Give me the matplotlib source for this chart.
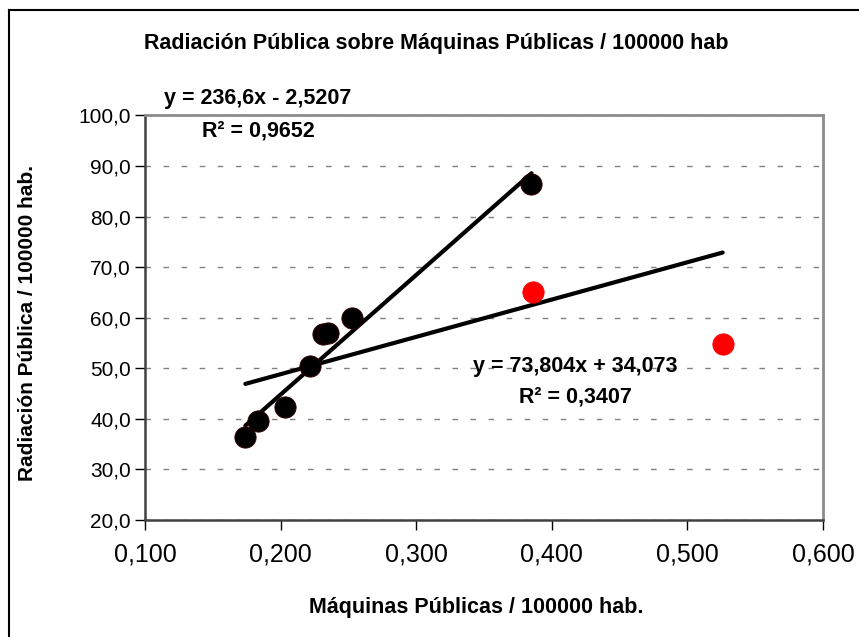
import matplotlib
matplotlib.use('Agg')
import matplotlib.pyplot as plt
from matplotlib.ticker import FuncFormatter, MultipleLocator
from matplotlib.lines import Line2D

# Data
X_BLACK = [0.174, 0.183, 0.203, 0.222, 0.231, 0.235, 0.253, 0.385]
Y_BLACK = [36.5, 39.5, 42.4, 50.4, 56.7, 56.9, 60.0, 86.4]
X_RED = [0.386, 0.526]
Y_RED = [65.1, 54.8]

# Trend lines: (slope, intercept) as printed on the chart
FIT_BLACK = (236.6, -2.5207)
FIT_ALL = (73.804, 34.073)
EQ_BLACK = ['y = 236,6x - 2,5207', 'R² = 0,9652']
EQ_ALL = ['y = 73,804x + 34,073', 'R² = 0,3407']

TITLE = 'Radiación Pública sobre Máquinas Públicas / 100000 hab'
XLABEL = 'Máquinas Públicas / 100000 hab.'
YLABEL = 'Radiación Pública / 100000 hab.'

BOLD_SIZE = 15.5

plt.rcParams['font.family'] = ['Liberation Sans', 'DejaVu Sans']

fig = plt.figure(figsize=(8.59, 6.37), dpi=100)
ax = fig.add_axes([0.1688, 0.1837, 0.7893, 0.6350])

# outer chart frame (only left and top visible in the crop)
fig.add_artist(Line2D([0.0105, 0.0105], [0, 0.9843], transform=fig.transFigure,
                      color='black', lw=1.5))
fig.add_artist(Line2D([0.0105, 1.0], [0.9843, 0.9843], transform=fig.transFigure,
                      color='black', lw=1.5))

# trend lines
x0, x1 = min(X_BLACK), max(X_BLACK)
ax.plot([x0, x1], [FIT_BLACK[0] * x0 + FIT_BLACK[1], FIT_BLACK[0] * x1 + FIT_BLACK[1]],
        color='black', lw=3, solid_capstyle='round', zorder=3)
xa0, xa1 = min(X_BLACK + X_RED), max(X_BLACK + X_RED)
ax.plot([xa0, xa1], [FIT_ALL[0] * xa0 + FIT_ALL[1], FIT_ALL[0] * xa1 + FIT_ALL[1]],
        color='black', lw=3, solid_capstyle='round', zorder=3)

# points
ax.scatter(X_BLACK, Y_BLACK, s=235, color='black', edgecolors='#3a0000', lw=0.6, zorder=4)
ax.scatter(X_RED, Y_RED, s=235, color='#ff0000', edgecolors='#ff0000', lw=0.6, zorder=4)

ax.set_xlim(0.1, 0.6)
ax.set_ylim(20, 100)
ax.xaxis.set_major_locator(MultipleLocator(0.1))
ax.yaxis.set_major_locator(MultipleLocator(10))
ax.xaxis.set_major_formatter(FuncFormatter(lambda v, p: f'{v:.3f}'.replace('.', ',')))
ax.yaxis.set_major_formatter(FuncFormatter(lambda v, p: f'{v:.1f}'.replace('.', ',')))
ax.tick_params(axis='x', labelsize=18, length=7, width=1, pad=9, color='black')
ax.tick_params(axis='y', labelsize=15, length=7, width=1, pad=3, color='black')

ax.grid(axis='y', color='#808080', lw=1, linestyle=(0, (4, 9)))
ax.set_axisbelow(True)

for side in ['left', 'bottom']:
    ax.spines[side].set_color('#404040')
    ax.spines[side].set_linewidth(1.8)
for side in ['top', 'right']:
    ax.spines[side].set_color('#8c8c8c')
    ax.spines[side].set_linewidth(2)

# equation labels
ax.text(0.183, 103.3, EQ_BLACK[0], ha='center', va='center', fontsize=BOLD_SIZE,
        fontweight='bold', clip_on=False)
ax.text(0.1836, 96.9, EQ_BLACK[1], ha='center', va='center', fontsize=BOLD_SIZE,
        fontweight='bold', clip_on=False)
ax.text(0.4174, 50.4, EQ_ALL[0], ha='center', va='center', fontsize=BOLD_SIZE,
        fontweight='bold')
ax.text(0.4174, 44.3, EQ_ALL[1], ha='center', va='center', fontsize=BOLD_SIZE,
        fontweight='bold')

fig.text(436 / 859, 1 - 43 / 637, TITLE, ha='center', va='center', fontsize=BOLD_SIZE,
         fontweight='bold')
fig.text(476 / 859, 1 - 608 / 637, XLABEL, ha='center', va='center', fontsize=BOLD_SIZE,
         fontweight='bold')
fig.text(28 / 859, 1 - 323 / 637, YLABEL, ha='center', va='center', fontsize=15,
         fontweight='bold', rotation=90)

fig.savefig('out.png', dpi=100)
